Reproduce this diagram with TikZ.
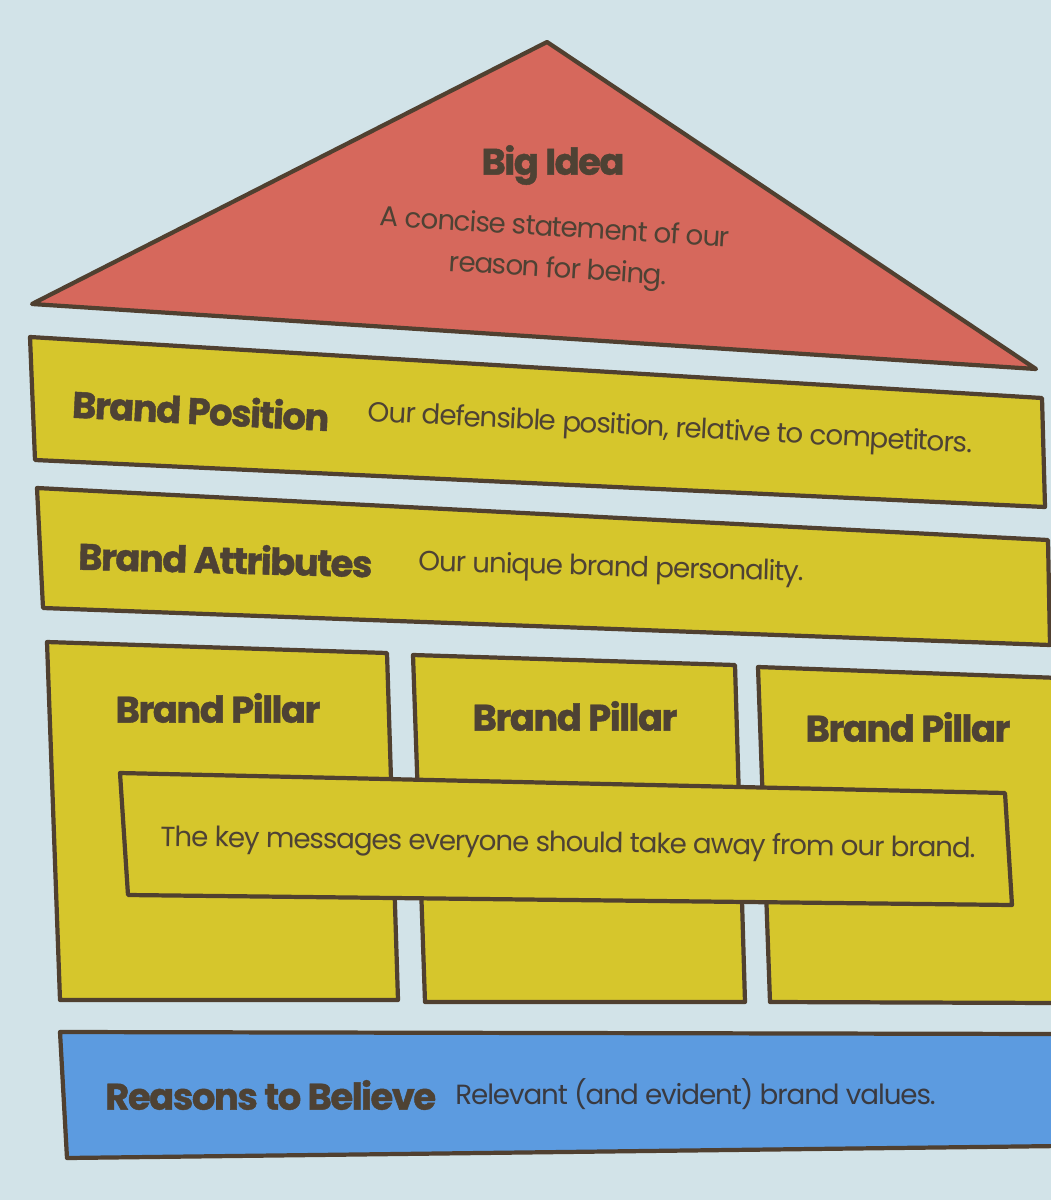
\documentclass[tikz,border=0pt]{standalone}
\usepackage{fontspec}
\setmainfont{Poppins}[LetterSpace=-4, BoldFeatures={FakeBold=1.2}]
\usepackage{tikz}
\definecolor{wallbg}{RGB}{210,227,232}
\definecolor{roofred}{RGB}{214,104,92}
\definecolor{bandyel}{RGB}{214,198,44}
\definecolor{rtbblue}{RGB}{92,155,224}
\definecolor{edgebr}{RGB}{80,64,48}
\definecolor{inkbr}{RGB}{78,66,52}
\definecolor{inkgr}{RGB}{58,58,64}
\tikzset{
  roofbox/.style={draw=edgebr, line width=2.4pt, line join=round, fill=roofred},
  bandbox/.style={draw=edgebr, line width=2.4pt, line join=round, fill=bandyel},
  rtbbox/.style={draw=edgebr, line width=2.4pt, line join=round, fill=rtbblue},
  headtxt/.style={font=\fontsize{21}{24}\selectfont\bfseries, text=inkbr, inner sep=0pt},
  bodytxt/.style={font=\fontsize{15.8}{18}\selectfont, text=inkbr, inner sep=0pt},
}

\begin{document}
\begin{tikzpicture}[x=0.02cm,y=-0.02cm]
  \fill[wallbg] (0,0) rectangle (1051,1200);
  \useasboundingbox (0,0) rectangle (1051,1200);
  \clip (0,0) rectangle (1051,1200);
  % roof
  \draw[roofbox] (32,304) -- (547,42) -- (1036,369) -- cycle;
  \node[headtxt] (bigidea) at (553,165) {Big Idea};
  \node[bodytxt, rotate=-3.5] (bigtxta) at (555,226) {A concise statement of our};
  \node[bodytxt, rotate=-3.5] (bigtxtb) at (558,271) {reason for being.};
  % position and attributes
  \draw[bandbox] (30,337) -- (1042,398) -- (1045,507) -- (35,460) -- cycle;
  \node[headtxt, rotate=-3, anchor=west] (poshead) at (72,403) {Brand Position};
  \node[bodytxt, rotate=-3, anchor=west] (postxt) at (368,414) {Our defensible position, relative to competitors.};
  \draw[bandbox] (37,488) -- (1048,540) -- (1050,645) -- (43,608) -- cycle;
  \node[headtxt, rotate=-1.5, anchor=west] (atthead) at (78,555) {Brand Attributes};
  \node[bodytxt, rotate=-1.5, anchor=west] (atttxt) at (418,564) {Our unique brand personality.};
  % pillars
  \draw[bandbox] (47,642) -- (387,653) -- (398,1000) -- (60,1000) -- cycle;
  \draw[bandbox] (413,655) -- (735,665) -- (745,1002) -- (425,1002) -- cycle;
  \draw[bandbox] (758,667) -- (1060,678) -- (1060,1003) -- (770,1002) -- cycle;
  \foreach \px/\py/\nm in {218/708/pila, 575/716/pilb, 908/727/pilc}
    \node[headtxt] (\nm) at (\px,\py) {Brand Pillar};
  \draw[bandbox] (120,773) -- (1005,793) -- (1012,905) -- (128,895) -- cycle;
  \node[bodytxt, rotate=-0.8] (msgtxt) at (568,845) {The key messages everyone should take away from our brand.};
  % reasons to believe
  \draw[rtbbox] (60,1032) -- (1060,1034) -- (1060,1146) -- (67,1158) -- cycle;
  \node[headtxt, anchor=west, text=inkbr] (rtbhead) at (105,1095) {Reasons to Believe};
  \node[bodytxt, anchor=west, text=inkgr] (rtbtxt) at (455,1094) {Relevant (and evident) brand values.};
\end{tikzpicture}
\end{document}
